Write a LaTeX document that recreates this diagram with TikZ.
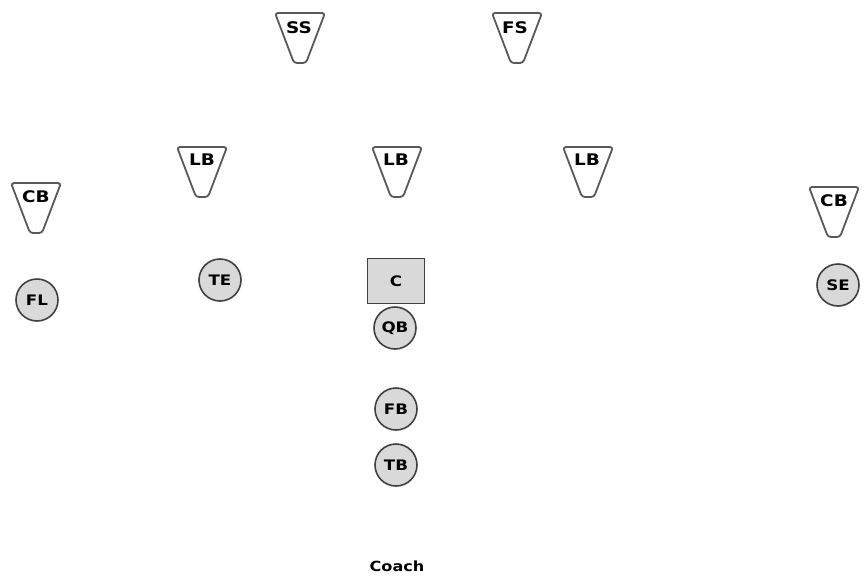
\documentclass[tikz,border=0pt]{standalone}
\usepackage{fontspec}
\setmainfont{DejaVu Sans}
\newfontfamily\widefont[FakeStretch=1.15]{DejaVu Sans}
\begin{document}
\begin{tikzpicture}[x=1pt,y=-1pt,
  plr/.style={circle,draw=black!75,line width=1.6pt,fill=black!15,minimum size=42pt,inner sep=0pt,font=\widefont\bfseries\fontsize{14.5}{14.5}\selectfont},
  ctr/.style={rectangle,draw=black!75,line width=1.6pt,fill=black!15,minimum width=57pt,minimum height=45pt,inner sep=0pt,font=\widefont\bfseries\fontsize{14.5}{14.5}\selectfont},
  def/.style={draw=black!65,line width=1.8pt,fill=white,rounded corners=3pt},
  dlab/.style={font=\widefont\bfseries\fontsize{16}{16}\selectfont,inner sep=0pt},
  defender/.pic={
    \draw[def] (-25,0) -- (25,0) -- (6,50) -- (-6,50) -- cycle;
  }
]
\useasboundingbox (0,0) rectangle (867,581);
\fill[white] (0,0) rectangle (867,581);
\pic at (300,13) {defender}; \node[dlab] (ss) at (299,28) {SS};
\pic at (517,13) {defender}; \node[dlab] (fs) at (515,28) {FS};
\pic at (202,147) {defender}; \node[dlab] (lb1) at (202,160) {LB};
\pic at (397,147) {defender}; \node[dlab] (lb2) at (396,160) {LB};
\pic at (588,147) {defender}; \node[dlab] (lb3) at (587,160) {LB};
\pic at (36,183) {defender}; \node[dlab] (cb1) at (36,197) {CB};
\pic at (834,187) {defender}; \node[dlab] (cb2) at (834,201) {CB};
\node[plr] (fl) at (37,300) {FL};
\node[plr] (te) at (220,280) {TE};
\node[ctr] (c) at (396,281) {C};
\node[plr] (qb) at (395,328) {QB};
\node[plr] (fb) at (396,409) {FB};
\node[plr] (tb) at (396,465) {TB};
\node[plr] (se) at (838,285) {SE};
\node[font=\widefont\bfseries\fontsize{14}{14}\selectfont] (coach) at (397,566) {Coach};
\end{tikzpicture}
\end{document}
